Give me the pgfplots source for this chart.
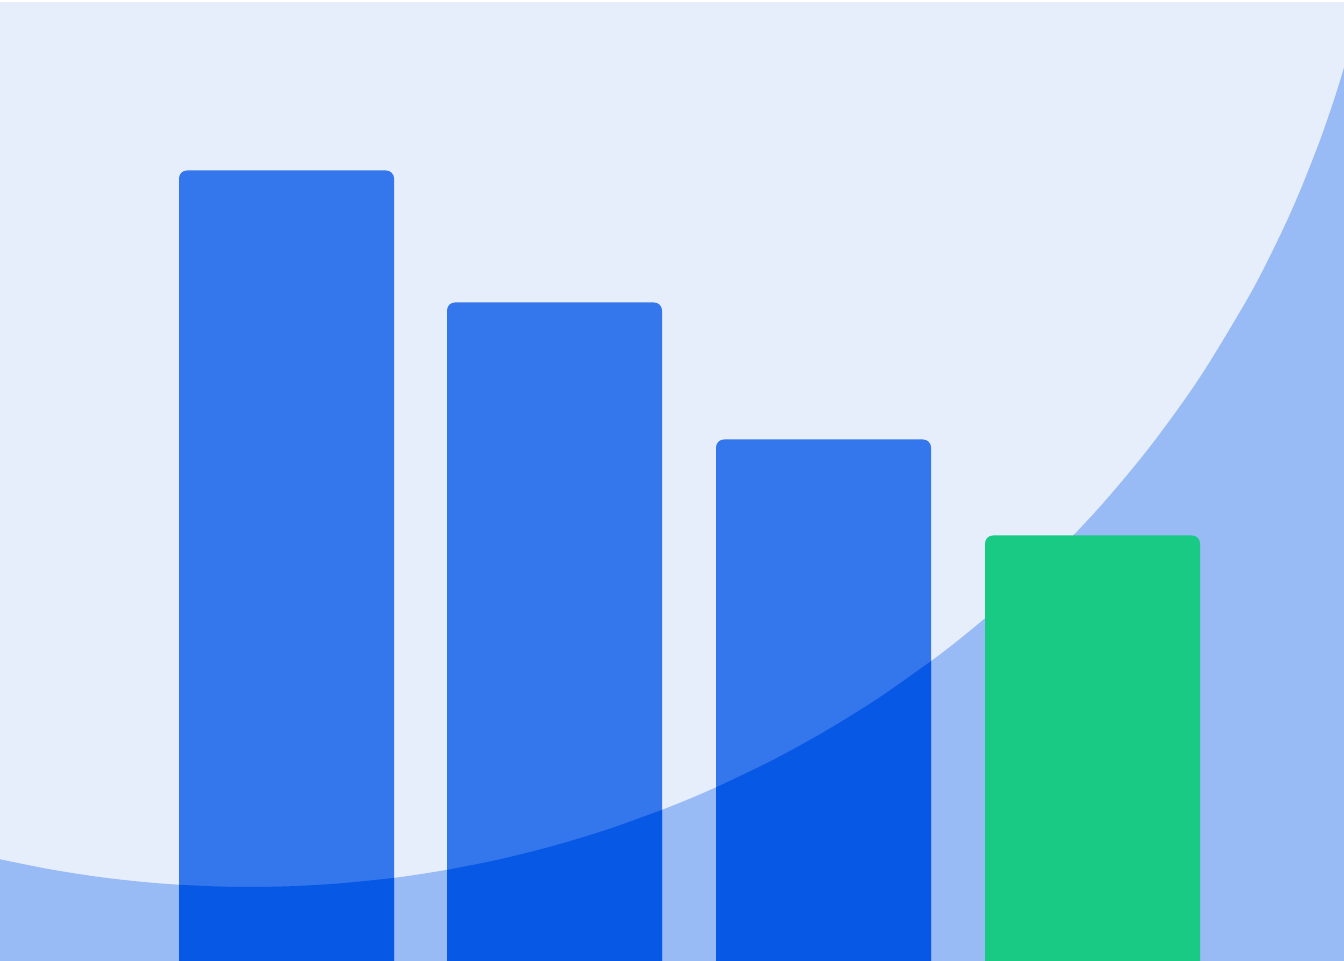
\documentclass[border=0pt]{standalone}
\usepackage{pgfplots}
\pgfplotsset{compat=1.18}
\definecolor{bgcol}{HTML}{E6EEFC}
\definecolor{arccol}{HTML}{99BBF5}
\definecolor{barlight}{HTML}{3476EB}
\definecolor{bardark}{HTML}{0858E6}
\definecolor{bargreen}{HTML}{18CA84}
\begin{document}
\begin{tikzpicture}
\begin{axis}[
    width=672pt, height=480.5pt, scale only axis,
    xmin=0, xmax=1344, ymin=10, ymax=971,
    hide axis, clip=true,
]
% keep the full frame in the bounding box
\path (rel axis cs:0,0) rectangle (rel axis cs:1,1);
% background (thin white strip left at the top)
\addplot[fill=bgcol, draw=none] coordinates {(-5,0) (-5,968.5) (1350,968.5) (1350,0)} -- cycle;
% the big arc area, lower right
\addplot[fill=arccol, draw=none, smooth] coordinates {
    (0,111.7) (50,101.7) (100,93.9) (150,88.4) (200,85.1) (250,84) (300,85.1)
    (350,88.4) (400,93.9) (450,101.7) (500,111.7) (550,124.2) (600,139.1)
    (650,156.5) (700,176.6) (750,199.5) (800,225.5) (850,254.7) (900,287.5)
    (950,324.2) (1000,365.5) (1050,411.8) (1100,464.3) (1150,524.3)
    (1200,593.8) (1250,676.6) (1280,735.4) (1300,780) (1320,830.7)
    (1335,874.2) (1344,903.4)
} \closedcycle;
% blue bars
\addplot[fill=barlight, draw=none, rounded corners=4pt]
    coordinates {(179,-20) (179,800.5) (394,800.5) (394,-20)} -- cycle;
\addplot[fill=barlight, draw=none, rounded corners=4pt]
    coordinates {(447,-20) (447,668.5) (662,668.5) (662,-20)} -- cycle;
\addplot[fill=barlight, draw=none, rounded corners=4pt]
    coordinates {(716,-20) (716,531.5) (931,531.5) (931,-20)} -- cycle;
% parts of the blue bars that lie over the arc area
\addplot[fill=bardark, draw=none, smooth] coordinates {
    (179,86.2) (233,84.1) (286,84.6) (340,87.6) (394,93.1)} \closedcycle;
\addplot[fill=bardark, draw=none, smooth] coordinates {
    (447,101.1) (500,111.7) (554,125.3) (608,141.7) (662,161.1)} \closedcycle;
\addplot[fill=bardark, draw=none, smooth] coordinates {
    (716,183.6) (770,209.5) (823,238.5) (877,271.9) (931,309.8)} \closedcycle;
% green bar
\addplot[fill=bargreen, draw=none, rounded corners=4pt]
    coordinates {(985,-20) (985,435.5) (1200,435.5) (1200,-20)} -- cycle;
\end{axis}
\end{tikzpicture}
\end{document}
